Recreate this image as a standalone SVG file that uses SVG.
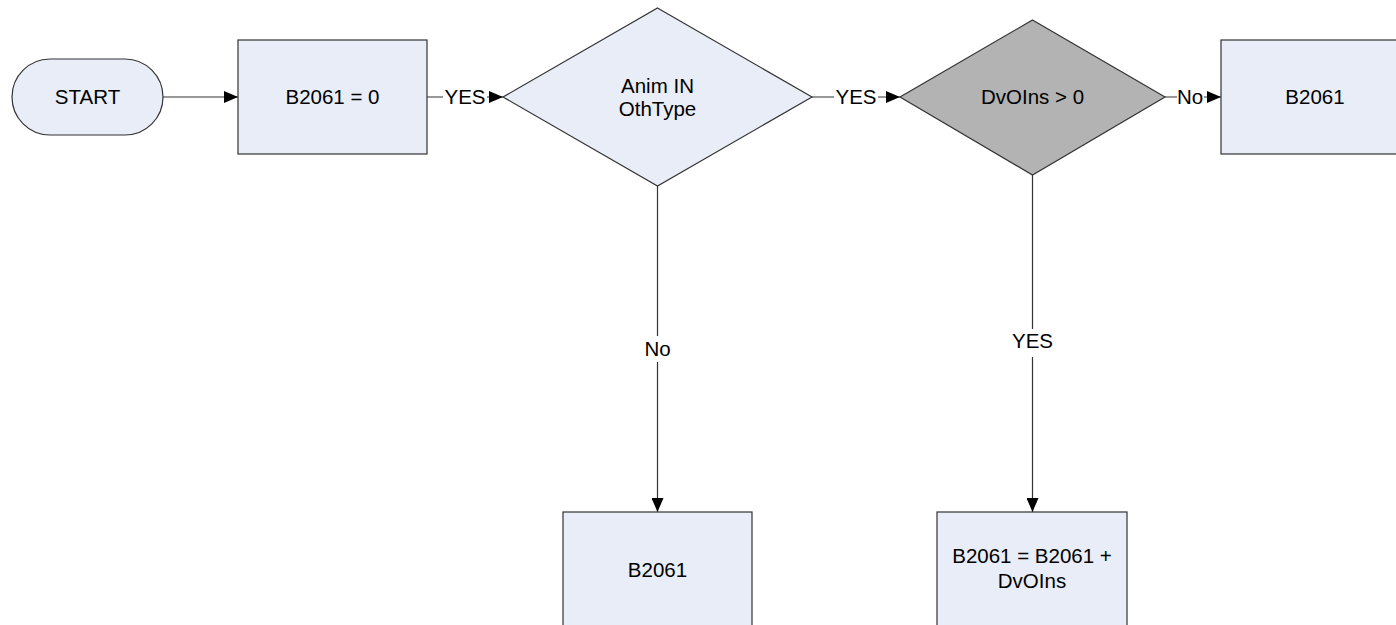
<svg xmlns="http://www.w3.org/2000/svg" width="1396" height="625" viewBox="0 0 1396 625">
<style>
.box{fill:#e8edf7;stroke:#333;stroke-width:1.2}
.dec{fill:#e8edf7;stroke:#333;stroke-width:1.2}
.gray{fill:#b3b3b3;stroke:#333;stroke-width:1.2}
.t{font-family:"Liberation Sans",Arial,sans-serif;font-size:20.5px;fill:#000;text-anchor:middle}
.c{stroke:#333;stroke-width:1.2;fill:none}
.lb{fill:#fff}
</style>
<defs>
<marker id="ah" viewBox="0 0 14 12" refX="14" refY="6" markerWidth="14" markerHeight="12" markerUnits="userSpaceOnUse" orient="auto">
<path d="M0,0 L14,6 L0,12 z" fill="#000"/>
</marker>
</defs>
<rect width="1396" height="625" fill="#fff"/>
<g id="connectors">
<line class="c" x1="163" y1="97" x2="238" y2="97" marker-end="url(#ah)"/>
<line class="c" x1="427" y1="97" x2="503" y2="97" marker-end="url(#ah)"/>
<rect class="lb" x="443" y="86" width="44" height="22"/>
<text class="t" x="465" y="104">YES</text>
<line class="c" x1="812" y1="97" x2="900" y2="97" marker-end="url(#ah)"/>
<rect class="lb" x="834" y="86" width="44" height="22"/>
<text class="t" x="856" y="104">YES</text>
<line class="c" x1="1165" y1="97" x2="1221" y2="97" marker-end="url(#ah)"/>
<rect class="lb" x="1177" y="86" width="27" height="22"/>
<text class="t" x="1190" y="104">No</text>
<line class="c" x1="657.5" y1="186" x2="657.5" y2="512" marker-end="url(#ah)"/>
<rect class="lb" x="642" y="336" width="31" height="26"/>
<text class="t" x="657.5" y="356">No</text>
<line class="c" x1="1032.5" y1="175" x2="1032.5" y2="512" marker-end="url(#ah)"/>
<rect class="lb" x="1009" y="329" width="47" height="28"/>
<text class="t" x="1032.5" y="348">YES</text>
</g>
<g id="start">
<rect class="box" x="12" y="59" width="151" height="76" rx="38" ry="38"/>
<text class="t" x="87.5" y="104">START</text>
</g>
<g id="init">
<rect class="box" x="238" y="40" width="189" height="114"/>
<text class="t" x="332.5" y="104">B2061 = 0</text>
</g>
<g id="dec1">
<polygon class="dec" points="657.5,8 812,97 657.5,186 503,97"/>
<text class="t" x="657.5" y="93">Anim IN</text>
<text class="t" x="657.5" y="116">OthType</text>
</g>
<g id="dec2">
<polygon class="gray" points="1032.5,20 1165,97 1032.5,175 900,97"/>
<text class="t" x="1032.5" y="104">DvOIns &gt; 0</text>
</g>
<g id="right">
<rect class="box" x="1221" y="40" width="189" height="114"/>
<text class="t" x="1315" y="104">B2061</text>
</g>
<g id="bottomLeft">
<rect class="box" x="563" y="512" width="189" height="120"/>
<text class="t" x="657.5" y="577">B2061</text>
</g>
<g id="bottomRight">
<rect class="box" x="937" y="512" width="190" height="120"/>
<text class="t" x="1032" y="563">B2061 = B2061 +</text>
<text class="t" x="1032" y="588">DvOIns</text>
</g>
</svg>
